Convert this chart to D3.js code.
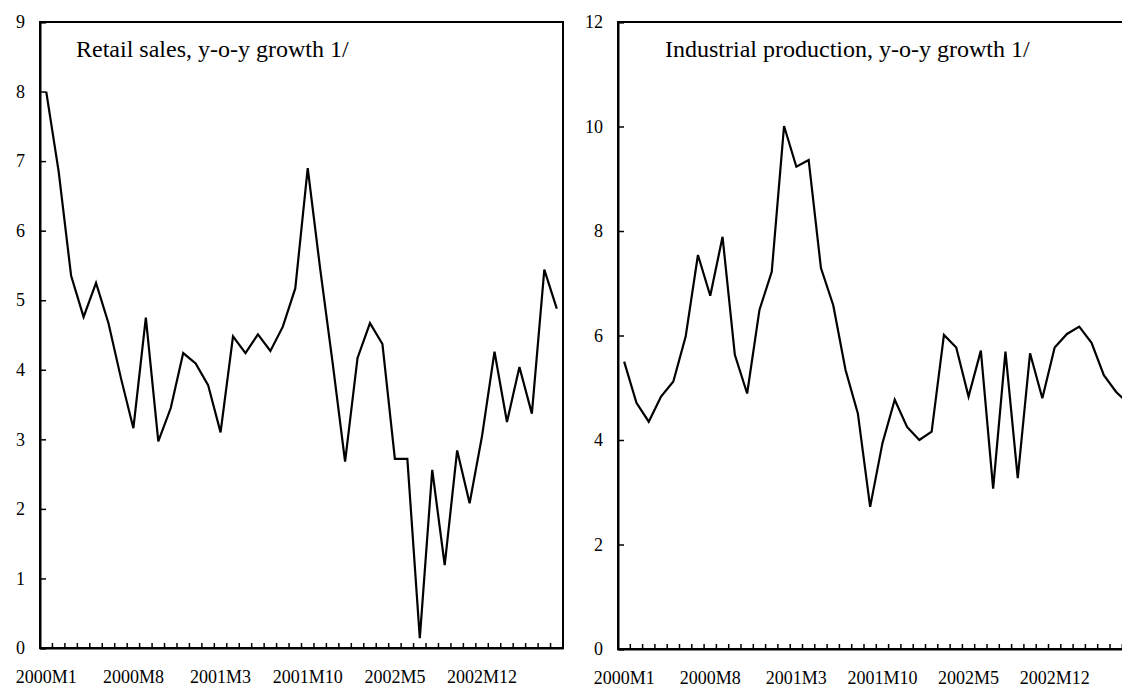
<!DOCTYPE html>
<html>
<head>
<meta charset="utf-8">
<script src="https://cdn.jsdelivr.net/npm/d3@7/dist/d3.min.js"></script>
<style>
  body { margin: 0; background: #fff; }
  svg { display: block; }
  text { font-family: 'Liberation Serif', 'Times New Roman', serif; fill: #000; }
</style>
</head>
<body>
<svg id="chart" width="1122" height="687"></svg>
<script>
// monthly categories 2000M1 .. 2003M6
const months = [];
for (let y = 2000; y <= 2003; y++) {
  for (let m = 1; m <= 12; m++) {
    if (months.length < 42) months.push(`${y}M${m}`);
  }
}

const xTickLabels = ['2000M1', '2000M8', '2001M3', '2001M10', '2002M5', '2002M12'];

const retailSales = [
  8.0, 6.85, 5.35, 4.76, 5.25, 4.67, 3.88, 3.16, 4.75, 2.97,
  3.45, 4.24, 4.09, 3.78, 3.1, 4.48, 4.24, 4.51, 4.27, 4.62,
  5.17, 6.9, 5.45, 4.1, 2.68, 4.17, 4.67, 4.37, 2.72, 2.72,
  0.14, 2.56, 1.19, 2.84, 2.08, 3.05, 4.26, 3.25, 4.04, 3.37,
  5.44, 4.88
];

const industrialProduction = [
  5.5, 4.71, 4.35, 4.83, 5.12, 5.98, 7.54, 6.76, 7.89, 5.63,
  4.89, 6.49, 7.22, 10.01, 9.23, 9.36, 7.29, 6.58, 5.34, 4.51,
  2.72, 3.94, 4.77, 4.25, 4.0, 4.16, 6.01, 5.77, 4.83, 5.71,
  3.07, 5.69, 3.27, 5.66, 4.8, 5.77, 6.03, 6.17, 5.86, 5.24,
  4.92, 4.7
];

const retailTicks = [0, 1, 2, 3, 4, 5, 6, 7, 8, 9];
const industryTicks = [0, 2, 4, 6, 8, 10, 12];

const svg = d3.select('#chart');

const panels = [
  { title: 'Retail sales, y-o-y growth 1/', values: retailSales, ticks: retailTicks,
    yMax: 9, left: 40, right: 563, top: 22, bottom: 648, titleX: 76 },
  { title: 'Industrial production, y-o-y growth 1/', values: industrialProduction, ticks: industryTicks,
    yMax: 12, left: 618, right: 618 + 42 * 12.3, top: 22, bottom: 649, titleX: 665 }
];

panels.forEach((p) => {
  const x = d3.scaleBand()
    .domain(months)
    .range([p.left, p.right]);

  const y = d3.scaleLinear()
    .domain([0, p.yMax])
    .range([p.bottom, p.top]);

  const g = svg.append('g');

  // frame
  g.append('rect')
    .attr('x', p.left)
    .attr('y', p.top)
    .attr('width', p.right - p.left)
    .attr('height', p.bottom - p.top)
    .attr('fill', 'none')
    .attr('stroke', '#000')
    .attr('stroke-width', 2);

  // y axis, ticks pointing inside
  const yAxis = g.append('g')
    .attr('transform', `translate(${p.left},0)`)
    .call(d3.axisLeft(y).tickValues(p.ticks).tickSize(-6).tickPadding(15).tickFormat(d3.format('d')));
  yAxis.select('.domain').attr('stroke-width', 2);
  yAxis.selectAll('.tick line').attr('stroke-width', 1.5);
  yAxis.selectAll('text').style('font-size', '18px');

  // x axis labels
  const xAxis = g.append('g')
    .attr('transform', `translate(0,${p.bottom})`)
    .call(d3.axisBottom(x).tickValues(xTickLabels).tickSize(0).tickPadding(22));
  xAxis.select('.domain').attr('stroke-width', 2);
  xAxis.selectAll('text').style('font-size', '18px');

  // monthly ticks on the x axis, pointing up
  g.append('g')
    .selectAll('line')
    .data(months.slice(1))
    .enter()
    .append('line')
    .attr('x1', d => x(d))
    .attr('x2', d => x(d))
    .attr('y1', p.bottom)
    .attr('y2', p.bottom - 5)
    .attr('stroke', '#000')
    .attr('stroke-width', 1.5);

  const line = d3.line()
    .x((d, i) => x(months[i]) + x.bandwidth() / 2)
    .y(d => y(d));

  g.append('path')
    .datum(p.values)
    .attr('d', line)
    .attr('fill', 'none')
    .attr('stroke', '#000')
    .attr('stroke-width', 2.2)
    .attr('stroke-linejoin', 'miter');

  g.append('text')
    .attr('x', p.titleX)
    .attr('y', 57)
    .style('font-size', '24px')
    .text(p.title);
});
</script>
</body>
</html>
